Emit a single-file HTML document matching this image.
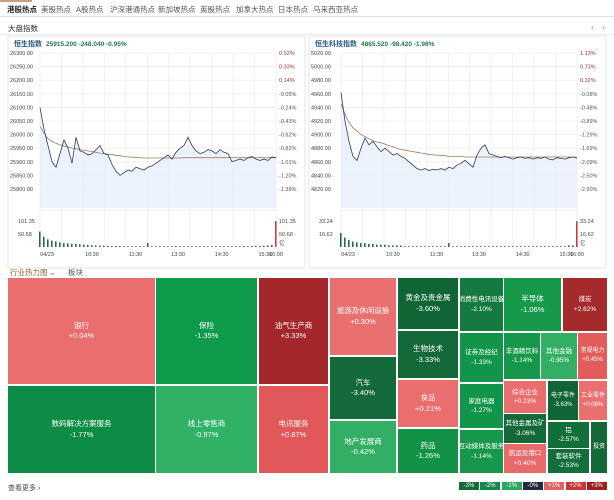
<!DOCTYPE html>
<html><head><meta charset="utf-8">
<style>
body{margin:0;width:614px;height:500px;background:#fff;font-family:"Liberation Sans","Noto Sans CJK SC",sans-serif;position:relative;overflow:hidden}
.a{position:absolute}
.tab{position:absolute;top:4px;font-size:7.5px;color:#555}
.cell{position:absolute;color:#fff;font-size:8px;display:flex;flex-direction:column;align-items:center;justify-content:center;text-align:center;line-height:11px;overflow:hidden;white-space:nowrap}
.lg{position:absolute;top:482px;width:20px;height:8px;color:#fff;font-size:6px;text-align:center;line-height:8px}
</style></head><body>
<div class="a" style="left:0;top:0;width:32px;height:2px;background:#c9a07a"></div>
<div class="tab" style="left:7px;color:#222;font-weight:bold">港股热点</div>
<div class="tab" style="left:41px">美股热点</div>
<div class="tab" style="left:76px">A股热点</div>
<div class="tab" style="left:110px">沪深港通热点</div>
<div class="tab" style="left:158px">新加坡热点</div>
<div class="tab" style="left:200px">英股热点</div>
<div class="tab" style="left:236px">加拿大热点</div>
<div class="tab" style="left:278px">日本热点</div>
<div class="tab" style="left:313px">马来西亚热点</div>
<div class="a" style="left:0;top:16px;width:614px;height:1px;background:#e4e4e4"></div>
<div class="a" style="left:8px;top:23px;font-size:7.5px;color:#333">大盘指数</div>
<div class="a" style="left:591px;top:22px;font-size:9px;color:#999">‹</div>
<div class="a" style="left:602px;top:22px;font-size:9px;color:#999">›</div>
<div class="a" style="left:0;top:34px;width:614px;height:1px;background:#eee"></div>

<svg id="charts" class="a" style="left:0;top:0" width="614" height="270"></svg>

<div class="a" style="left:10px;top:267px;font-size:7.5px;color:#8a6a2a">行业热力图 ⌄</div>
<div class="a" style="left:68px;top:267px;font-size:7.5px;color:#555">板块</div>
<div id="tm" class="a" style="left:0;top:0"></div>
<div class="a" style="left:8px;top:483px;font-size:7px;color:#444">查看更多 ›</div>
<div id="legend"></div>

<script>
const hsiPrices=[26100,26020,25960,25900,25880,25930,25980,25950,25895,25990,25940,25935,25925,25930,25945,25960,25930,25925,25890,25865,25850,25860,25870,25865,25880,25875,25870,25880,25885,25895,25905,25915,25925,25910,25935,25950,25960,25990,25960,25940,25930,25935,25945,25940,25930,25945,25935,25930,25900,25905,25910,25905,25915,25920,25910,25905,25910,25905,25918,25915];
const hsiAvg=[26030,26005,25985,25975,25968,25962,25958,25955,25950,25948,25945,25942,25940,25938,25935,25932,25930,25928,25926,25924,25922,25920,25918,25917,25916,25915,25914,25914,25914,25914,25914,25914,25914,25914,25914,25914,25915,25915,25915,25915,25915,25915,25915,25915,25915,25915,25915,25915,25915,25915,25915,25915,25915,25915,25915,25915,25915,25915,25915,25915];
const hsiVol=[60,40,30,25,22,18,15,14,12,12,10,9,8,7,6,6,5,5,4,4,4,3,3,3,3,3,3,15,3,3,3,3,3,3,4,3,3,3,3,3,3,3,3,3,3,3,3,3,3,3,3,4,3,4,5,4,5,6,8,101];
const hsiTicks=["26300.00","26250.00","26200.00","26150.00","26100.00","26050.00","26000.00","25950.00","25900.00","25850.00","25800.00"];
const hsiPct=["0.52%","0.33%","0.14%","-0.05%","-0.24%","-0.43%","-0.62%","-0.82%","-1.01%","-1.20%","-1.39%"];
const hstPrices=[4962,4920,4890,4868,4862,4880,4895,4885,4890,4882,4875,4880,4875,4870,4872,4868,4865,4860,4855,4850,4848,4850,4847,4849,4848,4850,4848,4852,4850,4855,4858,4862,4857,4852,4870,4880,4885,4872,4870,4868,4866,4868,4866,4864,4866,4867,4865,4866,4864,4866,4865,4867,4864,4863,4866,4865,4864,4866,4867,4865.5];
const hstAvg=[4945,4930,4918,4910,4905,4900,4897,4894,4891,4889,4888,4886,4884,4882,4880,4878,4877,4876,4875,4874,4873,4872,4871,4870,4870,4869,4869,4868,4868,4868,4868,4867,4867,4867,4867,4867,4867,4867,4867,4867,4867,4867,4867,4867,4867,4867,4867,4867,4867,4867,4867,4867,4867,4867,4867,4867,4867,4867,4867,4867];
const hstVol=[18,12,9,7,6,5,5,4,4,3,3,3,2,2,2,2,1,1,1,1,1,1,1,1,1,1,1,5,1,1,1,1,1,1,1,1,1,1,1,1,1,1,1,1,1,1,1,1,1,1,1,1,1,1,1,1,1,2,2,33];
const hstTicks=["5020.00","5000.00","4980.00","4960.00","4940.00","4920.00","4900.00","4880.00","4860.00","4840.00","4820.00"];
const hstPct=["1.13%","0.73%","0.32%","-0.08%","-0.48%","-0.89%","-1.29%","-1.69%","-2.09%","-2.50%","-2.90%"];
const timeLabels=["04/23","10:30","11:30","13:30","14:30","15:30","16:00"];
const timeFrac=[0.03,0.22,0.405,0.585,0.77,0.955,1.0];

const NS="http://www.w3.org/2000/svg";
const svg=document.getElementById('charts');
function mk(tag,attrs,parent){const e=document.createElementNS(NS,tag);for(const k in attrs)e.setAttribute(k,attrs[k]);(parent||svg).appendChild(e);return e;}
function txt(x,y,s,attrs){const t=mk('text',Object.assign({x:x,y:y,'font-size':6},attrs));t.textContent=s;return t;}

function chart(ox,name,code,last,chg,pct,prices,avg,vol,ticks,pcts,vmaxLbl,vmidLbl,top,step,volMax){
  const g=mk('g',{});
  
  
  mk('rect',{x:ox,y:36,width:297,height:232,fill:'#fff',stroke:'#e6e6e6'},g);
  const x0=ox+32,x1=ox+268,y0=53,yStep=13.6,yBot=208,vBase=247,vTop=221;
  const yv=v=>y0+(top-v)/step*yStep;
  const xi=i=>x0+i*(x1-x0)/(prices.length-1);
  const yVol=v=>vBase-(v/volMax)*(vBase-vTop);
  const t=txt(ox+6,46,code,{'font-size':7,'font-weight':'bold',fill:'#2a5a8a'},g);
  
  const q=txt(ox+6+code.length*7+4,46,last+'  '+chg+'  '+pct,{'font-size':6.5,'font-weight':'bold',fill:'#1e7a45'},g);
  
  for(let k=0;k<=11;k++){const x=x0+k*(x1-x0)/11;mk('line',{x1:x,y1:y0,x2:x,y2:vBase,stroke:'#e8e8e8','stroke-width':0.6},g);}
  ticks.forEach((s,k)=>{const y=y0+k*yStep;mk('line',{x1:x0,y1:y,x2:x1,y2:y,stroke:'#e8e8e8','stroke-width':0.6},g);
    const l=txt(ox+2,y+2,s,{'font-size':5.5,fill:'#3a4a3a'},g);
    const r=txt(x1+3,y+2,pcts[k],{'font-size':5.5,fill:pcts[k][0]=='-'?'#555':'#a03030'},g);});
  mk('line',{x1:x0,y1:yBot+2,x2:x1,y2:yBot+2,stroke:'#ddd','stroke-width':0.6},g);
  let d='M'+xi(0)+','+yv(prices[0]);prices.forEach((v,i)=>{d+=' L'+xi(i).toFixed(1)+','+yv(v).toFixed(1);});
  const area=mk('path',{d:d+' L'+x1+','+yBot+' L'+x0+','+yBot+' Z',fill:'#e6effa',opacity:0.8},g);
  
  let da='';avg.forEach((v,i)=>{da+=(i?' L':'M')+xi(i).toFixed(1)+','+yv(v).toFixed(1);});
  const al=mk('path',{d:da,fill:'none',stroke:'#a07a60','stroke-width':0.8},g);
  const pl=mk('path',{d:d,fill:'none',stroke:'#2c3e5a','stroke-width':0.8},g);
  vol.forEach((v,i)=>{const b=mk('rect',{x:xi(i)-1,y:yVol(v),width:1.6,height:vBase-yVol(v),fill:i==vol.length-1?'#c04040':'#2a6a45'},g);
    });
  [[vmaxLbl,vTop],[vmidLbl,(vTop+vBase)/2]].forEach(([s,y])=>{txt(ox+10,y+2,s,{'font-size':5.5,fill:'#444'},g);txt(x1+3,y+2,s,{'font-size':5.5,fill:'#444'},g);});
  txt(x1+3,vBase-2,'亿',{'font-size':5.5,fill:'#444'},g);
  timeLabels.forEach((s,k)=>{const l=txt(x0+timeFrac[k]*(x1-x0),256,s,{'font-size':5.5,fill:'#444','text-anchor':'middle'},g);});
}
chart(8,'hsi','恒生指数','25915.200','-248.040','-0.95%',hsiPrices,hsiAvg,hsiVol,hsiTicks,hsiPct,'101.35','50.68',26300,50,101.35);
chart(309,'hstech','恒生科技指数','4865.520','-98.420','-1.98%',hstPrices,hstAvg,hstVol,hstTicks,hstPct,'33.24','16.62',5020,20,33.24);

const cells=[
["银行","+0.04%",8,278,147,106,"#ea6e6e"],
["保险","-1.35%",156,278,101,106,"#109a4c"],
["油气生产商","+3.33%",259,278,69,106,"#a3272b"],
["数码解决方案服务","-1.77%",8,386,147,87,"#0d8c45"],
["线上零售商","-0.97%",156,386,101,87,"#2fb266"],
["电讯服务","+0.87%",259,386,69,87,"#e25858"],
["旅游及休闲设施","+0.30%",330,278,66,77,"#ea7070"],
["汽车","-3.40%",330,357,66,62,"#14693a"],
["地产发展商","-0.42%",330,421,66,52,"#32ae65"],
["黄金及贵金属","-3.60%",398,278,60,51,"#0f6534"],
["生物技术","-3.33%",398,331,60,47,"#136a38"],
["食品","+0.21%",398,380,60,47,"#ea6e6e"],
["药品","-1.26%",398,429,60,44,"#129247"],
["消费性电讯设备","-2.10%",460,278,43,53,"#157a40"],
["证券及经纪","-1.33%",460,333,43,49,"#11954a"],
["家庭电器","-1.27%",460,384,43,44,"#11954a"],
["互动媒体及服务","-1.14%",460,430,43,43,"#16984c"],
["半导体","-1.06%",504,278,57,53,"#17994c"],
["非酒精饮料","-1.14%",504,333,36,46,"#16984c"],
["其他金融","-0.95%",541,333,36,46,"#32ae65"],
["综合企业","+0.23%",504,381,42,32,"#ea6e6e"],
["其他金属及矿","-3.06%",504,414,42,29,"#136a38"],
["航运及港口","+0.40%",504,444,42,29,"#e86a6a"],
["电子零件","-3.63%",548,381,30,39,"#0f6534"],
["铝","-2.57%",548,422,41,26,"#136f3a"],
["套装软件","-2.53%",548,449,41,24,"#136f3a"],
["煤炭","+2.62%",563,278,44,53,"#a52a2c"],
["常规电力","+0.45%",578,333,29,46,"#e25c5c"],
["工业零件","+0.06%",579,381,28,39,"#ea7070"],
["投资","",591,422,16,51,"#136a38"]
];
const tm=document.getElementById('tm');
cells.forEach(c=>{const d=document.createElement('div');d.className='cell';
 
 
 const fs=c[4]<35?6:(c[4]<50?6.5:7.5);
 d.style.cssText=`left:${c[2]}px;top:${c[3]}px;width:${c[4]}px;height:${c[5]}px;background:${c[6]};font-size:${fs}px;line-height:${fs+3}px`;
 d.innerHTML=`<span>${c[0]}</span><span>${c[1]}</span>`;tm.appendChild(d);});
const legLabels=["-3%","-2%","-1%","-0%","+1%","+2%","+3%"];
const legColors=["#146a38","#18874a","#2aa860","#252a40","#e06464","#c53838","#9a2024"];
const lg=document.getElementById('legend');
legLabels.forEach((s,i)=>{const d=document.createElement('div');d.className='lg';
 
 
 d.style.left=(459+i*21.3)+'px';d.style.background=legColors[i];d.textContent=s;lg.appendChild(d);});
</script>
</body></html>
